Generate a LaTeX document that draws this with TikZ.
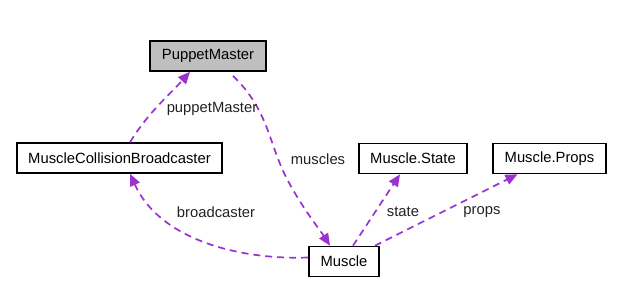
\documentclass[tikz,border=0pt]{standalone}
\usepackage{fontspec}
\setmainfont{Liberation Sans}
\usetikzlibrary{arrows.meta,positioning}
\definecolor{usage}{HTML}{9A32CD}
\definecolor{selfgray}{HTML}{BFBFBF}
\definecolor{labelgray}{HTML}{222222}
\tikzset{
  cls/.style={draw=black, line width=0.8pt, fill=white, inner sep=0pt,
    minimum height=15pt, font=\fontsize{7.4}{9}\selectfont},
  selfcls/.style={cls, fill=selfgray},
  uses/.style={-{Triangle[length=6pt,width=5.2pt]}, draw=usage,
    line width=0.85pt, dash pattern=on 3.5pt off 2.5pt},
  rel/.style={font=\fontsize{7.4}{9}\selectfont, text=labelgray, inner sep=0pt},
}
\begin{document}
\begin{tikzpicture}[x=0.5pt,y=0.5pt]
  \useasboundingbox (0,0) rectangle (634,290);
  % classes
  \node[selfcls, minimum width=58pt] (pm) at (208,234) {PuppetMaster};
  \node[cls, minimum width=102.5pt] (bc) at (119.5,132) {MuscleCollisionBroadcaster};
  \node[cls, minimum width=54pt] (st) at (413,131.5) {Muscle.State};
  \node[cls, minimum width=56.5pt] (pr) at (549.5,131.5) {Muscle.Props};
  \node[cls, minimum width=35pt] (mu) at (344,28.5) {Muscle};
  % usage edges
  \draw[uses] ([xshift=5.25pt]bc.north) to[out=58,in=-132] ([xshift=-9pt]pm.south);
  \draw[uses] ([xshift=12.5pt,yshift=-2pt]pm.south)
    .. controls (268,180) and (268,150) .. (285,115)
    .. controls (300,85) and (320,60) .. ([xshift=-7pt]mu.north);
  \draw[uses] ([yshift=2pt]mu.west) .. controls (240,30) and (160,50) .. ([xshift=5.25pt]bc.south);
  \draw[uses] ([xshift=4.5pt]mu.north) -- ([xshift=-6.5pt]st.south);
  \draw[uses] ([xshift=15.5pt]mu.north) -- ([xshift=-16pt]pr.south);
  % edge labels
  \node[rel] (lpm) at (212,181) {puppetMaster};
  \node[rel] (lmu) at (318,131) {muscles};
  \node[rel] (lbc) at (216,78) {broadcaster};
  \node[rel] (lst) at (403,78) {state};
  \node[rel] (lpr) at (482,78) {props};
\end{tikzpicture}
\end{document}
